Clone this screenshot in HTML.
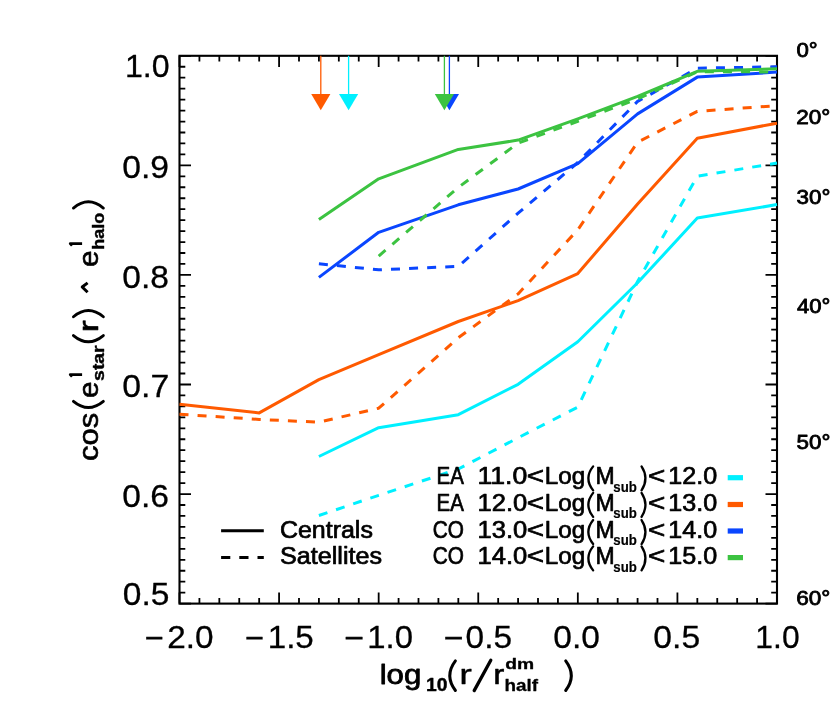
<!DOCTYPE html>
<html><head><meta charset="utf-8"><title>plot</title>
<style>
html,body{margin:0;padding:0;background:#fff;}
svg{display:block;font-family:"Liberation Sans",sans-serif;will-change:transform;}
</style></head>
<body>
<svg width="830" height="718" viewBox="0 0 830 718">
<defs><clipPath id="cp"><rect x="178.5" y="54.8" width="599.5" height="549.8000000000001"/></clipPath></defs>
<rect width="830" height="718" fill="#fff"/>
<rect x="179.5" y="55.8" width="597.5" height="547.8000000000001" fill="none" stroke="#000" stroke-width="2.1"/>
<path d="M179.50,603.6v-11.2M179.50,55.8v11.2M199.42,603.6v-5.6M199.42,55.8v5.6M219.33,603.6v-5.6M219.33,55.8v5.6M239.25,603.6v-5.6M239.25,55.8v5.6M259.17,603.6v-5.6M259.17,55.8v5.6M279.08,603.6v-11.2M279.08,55.8v11.2M299.00,603.6v-5.6M299.00,55.8v5.6M318.92,603.6v-5.6M318.92,55.8v5.6M338.83,603.6v-5.6M338.83,55.8v5.6M358.75,603.6v-5.6M358.75,55.8v5.6M378.67,603.6v-11.2M378.67,55.8v11.2M398.58,603.6v-5.6M398.58,55.8v5.6M418.50,603.6v-5.6M418.50,55.8v5.6M438.42,603.6v-5.6M438.42,55.8v5.6M458.33,603.6v-5.6M458.33,55.8v5.6M478.25,603.6v-11.2M478.25,55.8v11.2M498.17,603.6v-5.6M498.17,55.8v5.6M518.08,603.6v-5.6M518.08,55.8v5.6M538.00,603.6v-5.6M538.00,55.8v5.6M557.92,603.6v-5.6M557.92,55.8v5.6M577.83,603.6v-11.2M577.83,55.8v11.2M597.75,603.6v-5.6M597.75,55.8v5.6M617.67,603.6v-5.6M617.67,55.8v5.6M637.58,603.6v-5.6M637.58,55.8v5.6M657.50,603.6v-5.6M657.50,55.8v5.6M677.42,603.6v-11.2M677.42,55.8v11.2M697.33,603.6v-5.6M697.33,55.8v5.6M717.25,603.6v-5.6M717.25,55.8v5.6M737.17,603.6v-5.6M737.17,55.8v5.6M757.08,603.6v-5.6M757.08,55.8v5.6M777.00,603.6v-11.2M777.00,55.8v11.2M179.5,603.60h11.5M777.0,603.60h-11.5M179.5,592.64h5.8M777.0,592.64h-5.8M179.5,581.69h5.8M777.0,581.69h-5.8M179.5,570.73h5.8M777.0,570.73h-5.8M179.5,559.78h5.8M777.0,559.78h-5.8M179.5,548.82h5.8M777.0,548.82h-5.8M179.5,537.86h5.8M777.0,537.86h-5.8M179.5,526.91h5.8M777.0,526.91h-5.8M179.5,515.95h5.8M777.0,515.95h-5.8M179.5,505.00h5.8M777.0,505.00h-5.8M179.5,494.04h11.5M777.0,494.04h-11.5M179.5,483.08h5.8M777.0,483.08h-5.8M179.5,472.13h5.8M777.0,472.13h-5.8M179.5,461.17h5.8M777.0,461.17h-5.8M179.5,450.22h5.8M777.0,450.22h-5.8M179.5,439.26h5.8M777.0,439.26h-5.8M179.5,428.30h5.8M777.0,428.30h-5.8M179.5,417.35h5.8M777.0,417.35h-5.8M179.5,406.39h5.8M777.0,406.39h-5.8M179.5,395.44h5.8M777.0,395.44h-5.8M179.5,384.48h11.5M777.0,384.48h-11.5M179.5,373.52h5.8M777.0,373.52h-5.8M179.5,362.57h5.8M777.0,362.57h-5.8M179.5,351.61h5.8M777.0,351.61h-5.8M179.5,340.66h5.8M777.0,340.66h-5.8M179.5,329.70h5.8M777.0,329.70h-5.8M179.5,318.74h5.8M777.0,318.74h-5.8M179.5,307.79h5.8M777.0,307.79h-5.8M179.5,296.83h5.8M777.0,296.83h-5.8M179.5,285.88h5.8M777.0,285.88h-5.8M179.5,274.92h11.5M777.0,274.92h-11.5M179.5,263.96h5.8M777.0,263.96h-5.8M179.5,253.01h5.8M777.0,253.01h-5.8M179.5,242.05h5.8M777.0,242.05h-5.8M179.5,231.10h5.8M777.0,231.10h-5.8M179.5,220.14h5.8M777.0,220.14h-5.8M179.5,209.18h5.8M777.0,209.18h-5.8M179.5,198.23h5.8M777.0,198.23h-5.8M179.5,187.27h5.8M777.0,187.27h-5.8M179.5,176.32h5.8M777.0,176.32h-5.8M179.5,165.36h11.5M777.0,165.36h-11.5M179.5,154.40h5.8M777.0,154.40h-5.8M179.5,143.45h5.8M777.0,143.45h-5.8M179.5,132.49h5.8M777.0,132.49h-5.8M179.5,121.54h5.8M777.0,121.54h-5.8M179.5,110.58h5.8M777.0,110.58h-5.8M179.5,99.62h5.8M777.0,99.62h-5.8M179.5,88.67h5.8M777.0,88.67h-5.8M179.5,77.71h5.8M777.0,77.71h-5.8M179.5,66.76h5.8M777.0,66.76h-5.8M179.5,55.80h11.5M777.0,55.80h-11.5" stroke="#000" stroke-width="1.8" fill="none"/>
<g fill="none" stroke-width="3" stroke-linejoin="round" clip-path="url(#cp)">
<polyline points="318.9,456.5 378.7,427.7 458.3,414.7 518.1,384.3 577.8,341.7 637.6,282.8 697.3,218.1 777.0,204.6" stroke="#00f0ff"/>
<polyline points="318.9,515.5 378.7,495.3 458.3,469.0 518.1,437.8 577.8,407.1 637.6,281.5 697.3,176.3 777.0,163.0" stroke="#00f0ff" stroke-dasharray="9 9.1"/>
<polyline points="179.5,404.2 259.2,412.9 318.9,379.6 378.7,354.6 458.3,321.5 518.1,300.7 577.8,273.6 637.6,203.9 697.3,138.2 777.0,123.2" stroke="#ff5a00"/>
<polyline points="179.5,414.2 259.2,419.4 318.9,422.2 378.7,408.2 458.3,337.8 518.1,293.9 577.8,229.8 637.6,142.2 697.3,111.4 777.0,105.6" stroke="#ff5a00" stroke-dasharray="9 9.1"/>
<polyline points="318.9,277.4 378.7,232.3 458.3,204.8 518.1,189.0 577.8,163.7 637.6,113.9 697.3,77.1 777.0,72.1" stroke="#0a46ff"/>
<polyline points="318.9,263.8 378.7,269.8 458.3,266.4 518.1,213.2 577.8,162.5 637.6,101.4 697.3,68.2 777.0,66.8" stroke="#0a46ff" stroke-dasharray="9 9.1"/>
<polyline points="318.9,219.4 378.7,178.8 458.3,149.4 518.1,140.1 577.8,118.8 637.6,96.4 697.3,71.3 777.0,68.8" stroke="#3cc341"/>
<polyline points="378.7,256.1 458.3,187.4 518.1,143.1 577.8,121.3 637.6,98.9 697.3,71.8 777.0,71.9" stroke="#3cc341" stroke-dasharray="9 9.1"/>
</g>
<line x1="320.8" y1="55.8" x2="320.8" y2="95" stroke="#ff5a00" stroke-width="1.3"/>
<polygon points="311.2,93.9 330.40000000000003,93.9 320.8,110.2" fill="#ff5a00"/>
<line x1="348.6" y1="55.8" x2="348.6" y2="95" stroke="#00f0ff" stroke-width="1.3"/>
<polygon points="339.0,93.9 358.20000000000005,93.9 348.6,110.2" fill="#00f0ff"/>
<line x1="449.4" y1="55.8" x2="449.4" y2="95" stroke="#0a46ff" stroke-width="1.3"/>
<polygon points="439.79999999999995,93.9 459.0,93.9 449.4,110.2" fill="#0a46ff"/>
<line x1="444.4" y1="55.8" x2="444.4" y2="95" stroke="#3cc341" stroke-width="1.3"/>
<polygon points="434.79999999999995,93.9 454.0,93.9 444.4,110.2" fill="#3cc341"/>
<text transform="translate(124.89,77.10) scale(1.0059,1)" font-size="32" font-weight="normal" fill="#000" stroke="#000" stroke-width="0.3" stroke-linejoin="round">1.0</text>
<text transform="translate(122.25,178.20) scale(1.0536,1)" font-size="32" font-weight="normal" fill="#000" stroke="#000" stroke-width="0.3" stroke-linejoin="round">0.9</text>
<text transform="translate(122.26,287.70) scale(1.0496,1)" font-size="32" font-weight="normal" fill="#000" stroke="#000" stroke-width="0.3" stroke-linejoin="round">0.8</text>
<text transform="translate(122.25,397.20) scale(1.0577,1)" font-size="32" font-weight="normal" fill="#000" stroke="#000" stroke-width="0.3" stroke-linejoin="round">0.7</text>
<text transform="translate(122.26,506.70) scale(1.0496,1)" font-size="32" font-weight="normal" fill="#000" stroke="#000" stroke-width="0.3" stroke-linejoin="round">0.6</text>
<text transform="translate(122.76,604.80) scale(1.0496,1)" font-size="32" font-weight="normal" fill="#000" stroke="#000" stroke-width="0.3" stroke-linejoin="round">0.5</text>
<text transform="translate(144.87,649.30) scale(1.0180,1)" font-size="32" font-weight="normal" fill="#000" stroke="#000" stroke-width="0.4" stroke-linejoin="round">−</text>
<text transform="translate(167.23,647.60) scale(1.0417,1)" font-size="32" font-weight="normal" fill="#000" stroke="#000" stroke-width="0.3" stroke-linejoin="round">2.0</text>
<text transform="translate(244.97,649.30) scale(1.0180,1)" font-size="32" font-weight="normal" fill="#000" stroke="#000" stroke-width="0.4" stroke-linejoin="round">−</text>
<text transform="translate(267.71,647.60) scale(1.0368,1)" font-size="32" font-weight="normal" fill="#000" stroke="#000" stroke-width="0.3" stroke-linejoin="round">1.5</text>
<text transform="translate(344.21,649.30) scale(1.0567,1)" font-size="32" font-weight="normal" fill="#000" stroke="#000" stroke-width="0.4" stroke-linejoin="round">−</text>
<text transform="translate(367.33,647.60) scale(1.0278,1)" font-size="32" font-weight="normal" fill="#000" stroke="#000" stroke-width="0.3" stroke-linejoin="round">1.0</text>
<text transform="translate(443.71,649.30) scale(1.0567,1)" font-size="32" font-weight="normal" fill="#000" stroke="#000" stroke-width="0.4" stroke-linejoin="round">−</text>
<text transform="translate(465.56,647.60) scale(1.0448,1)" font-size="32" font-weight="normal" fill="#000" stroke="#000" stroke-width="0.3" stroke-linejoin="round">0.5</text>
<text transform="translate(553.26,647.60) scale(1.0480,1)" font-size="32" font-weight="normal" fill="#000" stroke="#000" stroke-width="0.3" stroke-linejoin="round">0.0</text>
<text transform="translate(653.35,647.60) scale(1.0520,1)" font-size="32" font-weight="normal" fill="#000" stroke="#000" stroke-width="0.3" stroke-linejoin="round">0.5</text>
<text transform="translate(755.31,647.60) scale(0.9961,1)" font-size="32" font-weight="normal" fill="#000" stroke="#000" stroke-width="0.3" stroke-linejoin="round">1.0</text>
<text transform="translate(796.51,57.20) scale(1.1111,1)" font-size="20" font-weight="normal" fill="#000" stroke="#000" stroke-width="0.8" stroke-linejoin="round">0°</text>
<text transform="translate(796.27,123.70) scale(1.1286,1)" font-size="20" font-weight="normal" fill="#000" stroke="#000" stroke-width="0.8" stroke-linejoin="round">20°</text>
<text transform="translate(796.50,203.90) scale(1.1206,1)" font-size="20" font-weight="normal" fill="#000" stroke="#000" stroke-width="0.8" stroke-linejoin="round">30°</text>
<text transform="translate(796.96,313.20) scale(1.1049,1)" font-size="20" font-weight="normal" fill="#000" stroke="#000" stroke-width="0.8" stroke-linejoin="round">40°</text>
<text transform="translate(796.50,448.70) scale(1.1206,1)" font-size="20" font-weight="normal" fill="#000" stroke="#000" stroke-width="0.8" stroke-linejoin="round">50°</text>
<text transform="translate(796.27,604.60) scale(1.1286,1)" font-size="20" font-weight="normal" fill="#000" stroke="#000" stroke-width="0.8" stroke-linejoin="round">60°</text>
<text transform="translate(436.56,484.30) scale(0.8790,1)" font-size="23.3" font-weight="normal" fill="#000" stroke="#000" stroke-width="0.7" stroke-linejoin="round">EA</text>
<text transform="translate(477.40,484.30) scale(1.1437,1)" font-size="23.3" font-weight="normal" fill="#000" stroke="#000" stroke-width="0.7" stroke-linejoin="round">11.0</text>
<text transform="translate(526.82,484.30) scale(1.2743,1)" font-size="23.3" font-weight="normal" fill="#000" stroke="#000" stroke-width="0.7" stroke-linejoin="round">&lt;</text>
<text transform="translate(544.86,484.30) scale(1.0391,1)" font-size="23.3" font-weight="normal" fill="#000" stroke="#000" stroke-width="0.7" stroke-linejoin="round">Log</text>
<path d="M593.15,466.35Q583.55,478.35 593.15,490.35" fill="none" stroke="#000" stroke-width="2.3" stroke-linecap="round"/>
<text transform="translate(595.56,484.30) scale(0.9865,1)" font-size="23.3" font-weight="normal" fill="#000" stroke="#000" stroke-width="0.7" stroke-linejoin="round">M</text>
<text transform="translate(613.34,491.50) scale(0.9065,1)" font-size="14.6" font-weight="bold" fill="#000" stroke="#000" stroke-width="0.2" stroke-linejoin="round">sub</text>
<path d="M641.55,466.35Q649.35,478.35 641.55,490.35" fill="none" stroke="#000" stroke-width="2.3" stroke-linecap="round"/>
<text transform="translate(648.12,484.30) scale(1.2743,1)" font-size="23.3" font-weight="normal" fill="#000" stroke="#000" stroke-width="0.7" stroke-linejoin="round">&lt;</text>
<text transform="translate(668.22,484.30) scale(1.0782,1)" font-size="23.3" font-weight="normal" fill="#000" stroke="#000" stroke-width="0.7" stroke-linejoin="round">12.0</text>
<rect x="727.7" y="475.1" width="15.3" height="5.2" fill="#00f0ff"/>
<text transform="translate(436.56,510.80) scale(0.8790,1)" font-size="23.3" font-weight="normal" fill="#000" stroke="#000" stroke-width="0.7" stroke-linejoin="round">EA</text>
<text transform="translate(477.48,510.80) scale(1.0969,1)" font-size="23.3" font-weight="normal" fill="#000" stroke="#000" stroke-width="0.7" stroke-linejoin="round">12.0</text>
<text transform="translate(526.82,510.80) scale(1.2743,1)" font-size="23.3" font-weight="normal" fill="#000" stroke="#000" stroke-width="0.7" stroke-linejoin="round">&lt;</text>
<text transform="translate(544.86,510.80) scale(1.0391,1)" font-size="23.3" font-weight="normal" fill="#000" stroke="#000" stroke-width="0.7" stroke-linejoin="round">Log</text>
<path d="M593.15,492.85Q583.55,504.85 593.15,516.85" fill="none" stroke="#000" stroke-width="2.3" stroke-linecap="round"/>
<text transform="translate(595.56,510.80) scale(0.9865,1)" font-size="23.3" font-weight="normal" fill="#000" stroke="#000" stroke-width="0.7" stroke-linejoin="round">M</text>
<text transform="translate(613.34,518.00) scale(0.9065,1)" font-size="14.6" font-weight="bold" fill="#000" stroke="#000" stroke-width="0.2" stroke-linejoin="round">sub</text>
<path d="M641.55,492.85Q649.35,504.85 641.55,516.85" fill="none" stroke="#000" stroke-width="2.3" stroke-linecap="round"/>
<text transform="translate(648.12,510.80) scale(1.2743,1)" font-size="23.3" font-weight="normal" fill="#000" stroke="#000" stroke-width="0.7" stroke-linejoin="round">&lt;</text>
<text transform="translate(668.22,510.80) scale(1.0782,1)" font-size="23.3" font-weight="normal" fill="#000" stroke="#000" stroke-width="0.7" stroke-linejoin="round">13.0</text>
<rect x="727.7" y="501.9" width="15.3" height="5.2" fill="#ff5a00"/>
<text transform="translate(432.66,538.00) scale(0.8921,1)" font-size="23.3" font-weight="normal" fill="#000" stroke="#000" stroke-width="0.7" stroke-linejoin="round">CO</text>
<text transform="translate(477.48,538.00) scale(1.0969,1)" font-size="23.3" font-weight="normal" fill="#000" stroke="#000" stroke-width="0.7" stroke-linejoin="round">13.0</text>
<text transform="translate(526.82,538.00) scale(1.2743,1)" font-size="23.3" font-weight="normal" fill="#000" stroke="#000" stroke-width="0.7" stroke-linejoin="round">&lt;</text>
<text transform="translate(544.86,538.00) scale(1.0391,1)" font-size="23.3" font-weight="normal" fill="#000" stroke="#000" stroke-width="0.7" stroke-linejoin="round">Log</text>
<path d="M593.15,520.05Q583.55,532.05 593.15,544.05" fill="none" stroke="#000" stroke-width="2.3" stroke-linecap="round"/>
<text transform="translate(595.56,538.00) scale(0.9865,1)" font-size="23.3" font-weight="normal" fill="#000" stroke="#000" stroke-width="0.7" stroke-linejoin="round">M</text>
<text transform="translate(613.34,545.20) scale(0.9065,1)" font-size="14.6" font-weight="bold" fill="#000" stroke="#000" stroke-width="0.2" stroke-linejoin="round">sub</text>
<path d="M641.55,520.05Q649.35,532.05 641.55,544.05" fill="none" stroke="#000" stroke-width="2.3" stroke-linecap="round"/>
<text transform="translate(648.12,538.00) scale(1.2743,1)" font-size="23.3" font-weight="normal" fill="#000" stroke="#000" stroke-width="0.7" stroke-linejoin="round">&lt;</text>
<text transform="translate(668.22,538.00) scale(1.0782,1)" font-size="23.3" font-weight="normal" fill="#000" stroke="#000" stroke-width="0.7" stroke-linejoin="round">14.0</text>
<rect x="727.7" y="528.4" width="15.3" height="5.2" fill="#0a46ff"/>
<text transform="translate(432.66,564.30) scale(0.8921,1)" font-size="23.3" font-weight="normal" fill="#000" stroke="#000" stroke-width="0.7" stroke-linejoin="round">CO</text>
<text transform="translate(477.48,564.30) scale(1.0969,1)" font-size="23.3" font-weight="normal" fill="#000" stroke="#000" stroke-width="0.7" stroke-linejoin="round">14.0</text>
<text transform="translate(526.82,564.30) scale(1.2743,1)" font-size="23.3" font-weight="normal" fill="#000" stroke="#000" stroke-width="0.7" stroke-linejoin="round">&lt;</text>
<text transform="translate(544.86,564.30) scale(1.0391,1)" font-size="23.3" font-weight="normal" fill="#000" stroke="#000" stroke-width="0.7" stroke-linejoin="round">Log</text>
<path d="M593.15,546.35Q583.55,558.35 593.15,570.35" fill="none" stroke="#000" stroke-width="2.3" stroke-linecap="round"/>
<text transform="translate(595.56,564.30) scale(0.9865,1)" font-size="23.3" font-weight="normal" fill="#000" stroke="#000" stroke-width="0.7" stroke-linejoin="round">M</text>
<text transform="translate(613.34,571.50) scale(0.9065,1)" font-size="14.6" font-weight="bold" fill="#000" stroke="#000" stroke-width="0.2" stroke-linejoin="round">sub</text>
<path d="M641.55,546.35Q649.35,558.35 641.55,570.35" fill="none" stroke="#000" stroke-width="2.3" stroke-linecap="round"/>
<text transform="translate(648.12,564.30) scale(1.2743,1)" font-size="23.3" font-weight="normal" fill="#000" stroke="#000" stroke-width="0.7" stroke-linejoin="round">&lt;</text>
<text transform="translate(668.22,564.30) scale(1.0782,1)" font-size="23.3" font-weight="normal" fill="#000" stroke="#000" stroke-width="0.7" stroke-linejoin="round">15.0</text>
<rect x="727.7" y="555.0" width="15.3" height="5.2" fill="#3cc341"/>
<line x1="221.1" y1="530.8" x2="263.8" y2="530.8" stroke="#000" stroke-width="3"/>
<line x1="221.1" y1="557.4" x2="263.8" y2="557.4" stroke="#000" stroke-width="3" stroke-dasharray="9.2 9"/>
<text transform="translate(279.95,538.00) scale(1.0718,1)" font-size="23.3" font-weight="normal" fill="#000" stroke="#000" stroke-width="0.7" stroke-linejoin="round">Centrals</text>
<text transform="translate(280.07,564.40) scale(1.0784,1)" font-size="23.3" font-weight="normal" fill="#000" stroke="#000" stroke-width="0.7" stroke-linejoin="round">Satellites</text>
<text transform="translate(379.67,683.60) scale(1.1347,1)" font-size="27.5" font-weight="normal" fill="#000" stroke="#000" stroke-width="0.8" stroke-linejoin="round">log</text>
<text transform="translate(426.04,691.00) scale(1.0608,1)" font-size="18.2" font-weight="bold" fill="#000" stroke="#000" stroke-width="0.4" stroke-linejoin="round">10</text>
<path d="M455.40,660.90Q444.20,675.70 455.40,690.50" fill="none" stroke="#000" stroke-width="3.0" stroke-linecap="round"/>
<text transform="translate(459.33,683.60) scale(1.3818,1)" font-size="27.5" font-weight="normal" fill="#000" stroke="#000" stroke-width="0.3" stroke-linejoin="round">r</text>
<line x1="474.2" y1="690.6" x2="490.8" y2="660.3" stroke="#000" stroke-width="3.3" stroke-linecap="round"/>
<text transform="translate(493.14,683.60) scale(1.2073,1)" font-size="27.5" font-weight="normal" fill="#000" stroke="#000" stroke-width="0.5" stroke-linejoin="round">r</text>
<text transform="translate(505.13,668.70) scale(1.3393,1)" font-size="14.4" font-weight="bold" fill="#000" stroke="#000" stroke-width="0.3" stroke-linejoin="round">dm</text>
<text transform="translate(504.58,691.00) scale(1.1111,1)" font-size="17.0" font-weight="bold" fill="#000" stroke="#000" stroke-width="0.3" stroke-linejoin="round">half</text>
<path d="M565.70,660.90Q576.90,675.70 565.70,690.50" fill="none" stroke="#000" stroke-width="3.0" stroke-linecap="round"/>
<text transform="translate(97.60,460.00) rotate(-90) translate(-0.94,0.00) scale(1.1076,1)" font-size="28" font-weight="normal" fill="#000" stroke="#000" stroke-width="0.6" stroke-linejoin="round">cos</text>
<path d="M58.65,-24.15Q46.25,-9.20 58.65,5.75" fill="none" stroke="#000" stroke-width="2.9" stroke-linecap="round" transform="translate(97.60,460.00) rotate(-90)"/>
<text transform="translate(97.60,460.00) rotate(-90) translate(62.02,0.00) scale(1.0562,1)" font-size="28" font-weight="normal" fill="#000" stroke="#000" stroke-width="0.6" stroke-linejoin="round">e</text>
<path d="M85.4,-15.5V-27.3L83.4,-25.5" fill="none" stroke="#000" stroke-width="2.9" stroke-linejoin="round" stroke-linecap="butt" transform="translate(97.6,460.0) rotate(-90)"/>
<text transform="translate(97.60,460.00) rotate(-90) translate(79.12,6.60) scale(1.1270,1)" font-size="17.2" font-weight="bold" fill="#000" stroke="#000" stroke-width="0.4" stroke-linejoin="round">star</text>
<path d="M124.45,-24.15Q112.05,-9.20 124.45,5.75" fill="none" stroke="#000" stroke-width="2.9" stroke-linecap="round" transform="translate(97.60,460.00) rotate(-90)"/>
<text transform="translate(97.60,460.00) rotate(-90) translate(127.76,0.00) scale(1.2857,1)" font-size="28" font-weight="normal" fill="#000" stroke="#000" stroke-width="0.6" stroke-linejoin="round">r</text>
<path d="M143.25,-24.15Q155.65,-9.20 143.25,5.75" fill="none" stroke="#000" stroke-width="2.9" stroke-linecap="round" transform="translate(97.60,460.00) rotate(-90)"/>
<path d="M167.7,-10.0L173,-15.4L177.1,-10.0" fill="none" stroke="#000" stroke-width="3" stroke-linejoin="round" transform="translate(97.6,460.0) rotate(-90)"/>
<text transform="translate(97.60,460.00) rotate(-90) translate(193.12,0.00) scale(1.0562,1)" font-size="28" font-weight="normal" fill="#000" stroke="#000" stroke-width="0.6" stroke-linejoin="round">e</text>
<path d="M216.4,-15.5V-27.3L214.4,-25.5" fill="none" stroke="#000" stroke-width="2.9" stroke-linejoin="round" stroke-linecap="butt" transform="translate(97.6,460.0) rotate(-90)"/>
<text transform="translate(97.60,460.00) rotate(-90) translate(210.14,6.60) scale(1.0492,1)" font-size="17.2" font-weight="bold" fill="#000" stroke="#000" stroke-width="0.4" stroke-linejoin="round">halo</text>
<path d="M251.95,-24.15Q264.35,-9.20 251.95,5.75" fill="none" stroke="#000" stroke-width="2.9" stroke-linecap="round" transform="translate(97.60,460.00) rotate(-90)"/>
</svg>
</body></html>
